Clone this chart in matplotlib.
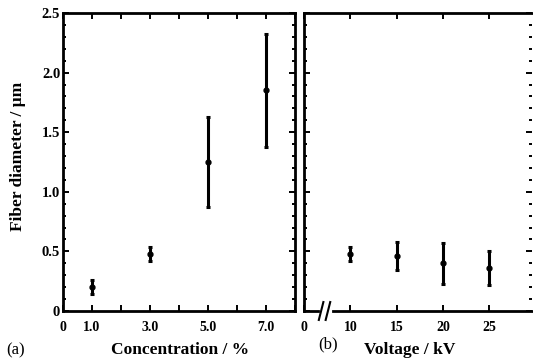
import matplotlib.pyplot as plt
import numpy as np
from matplotlib.ticker import MultipleLocator

plt.rcParams['font.family'] = ['Liberation Serif', 'DejaVu Serif']

# (a) concentration series
conc = [1.0, 3.0, 5.0, 7.0]
conc_diam = [0.20, 0.48, 1.25, 1.85]
conc_err = [0.06, 0.06, 0.38, 0.47]
conc_ticks = [0, 1, 2, 3, 4, 5, 6, 7, 8]
conc_labels = ['0', '1.0', '', '3.0', '', '5.0', '', '7.0', '']

# (b) voltage series
volt = [10, 15, 20, 25]
volt_diam = [0.48, 0.46, 0.40, 0.36]
volt_err = [0.06, 0.12, 0.17, 0.14]
volt_ticks = [5, 10, 15, 20, 25]
volt_labels = ['0', '10', '15', '20', '25']

y_ticks = [0, 0.5, 1.0, 1.5, 2.0, 2.5]
y_labels = ['0', '0.5', '1.0', '1.5', '2.0', '2.5']

W, H = 533, 362
fig = plt.figure(figsize=(W / 100, H / 100), dpi=100)

def box(l, r, b=311, t=13):
    return [l / W, (H - b) / H, (r - l) / W, (b - t) / H]

ax1 = fig.add_axes(box(63, 295))
ax2 = fig.add_axes(box(304, 532))

ebk = dict(fmt='o', color='black', ms=3.5, elinewidth=2.2, capsize=1.5, capthick=2.2)
ax1.errorbar(conc, conc_diam, yerr=conc_err, **ebk)
ax2.errorbar(volt, volt_diam, yerr=volt_err, **ebk)

for ax in (ax1, ax2):
    ax.set_ylim(0, 2.5)
    ax.set_yticks(y_ticks)
    ax.yaxis.set_minor_locator(MultipleLocator(0.1))
    for s in ax.spines.values():
        s.set_linewidth(2.0)
    ax.tick_params(which='both', direction='in', top=True, right=True, width=1.4)
    ax.tick_params(which='major', length=4)
    ax.tick_params(which='minor', length=2)
    ax.tick_params(axis='x', labelsize=10, pad=7)
    ax.tick_params(axis='y', labelsize=10.5, pad=2)

ax1.set_xlim(0, 8)
ax1.set_xticks(conc_ticks)
ax1.set_xticklabels(conc_labels, fontweight='bold')
ax1.set_yticklabels(y_labels, fontweight='bold')

ax2.set_xlim(5, 29.6)
ax2.set_xticks(volt_ticks)
ax2.set_xticklabels(volt_labels, fontweight='bold')
ax2.set_yticklabels([])
ax2.spines['right'].set_visible(False)

# broken x axis on (b)
ax2.spines['bottom'].set_visible(False)
ax2.plot([0, 0.06], [0, 0], color='black', lw=2.0, transform=ax2.transAxes, clip_on=False)
ax2.plot([0.125, 1], [0, 0], color='black', lw=2.0, transform=ax2.transAxes, clip_on=False)
for x0 in (0.065, 0.095):
    ax2.plot([x0, x0 + 0.02], [-0.03, 0.03], color='black', lw=1.5,
             transform=ax2.transAxes, clip_on=False)

fig.text(18 / W, 1 - 156 / H, 'Fiber diameter / \u03bcm', rotation=90, ha='center',
         va='center', fontsize=12.5, fontweight='bold')
fig.text(180 / W, 1 - 350 / H, 'Concentration / %', ha='center', va='center',
         fontsize=12.5, fontweight='bold')
fig.text(410 / W, 1 - 350 / H, 'Voltage / kV', ha='center', va='center',
         fontsize=12.5, fontweight='bold')
fig.text(16 / W, 1 - 350 / H, '(a)', ha='center', va='center', fontsize=12)
fig.text(328 / W, 1 - 344 / H, '(b)', ha='center', va='center', fontsize=12)

fig.savefig('out.png', dpi=100)
